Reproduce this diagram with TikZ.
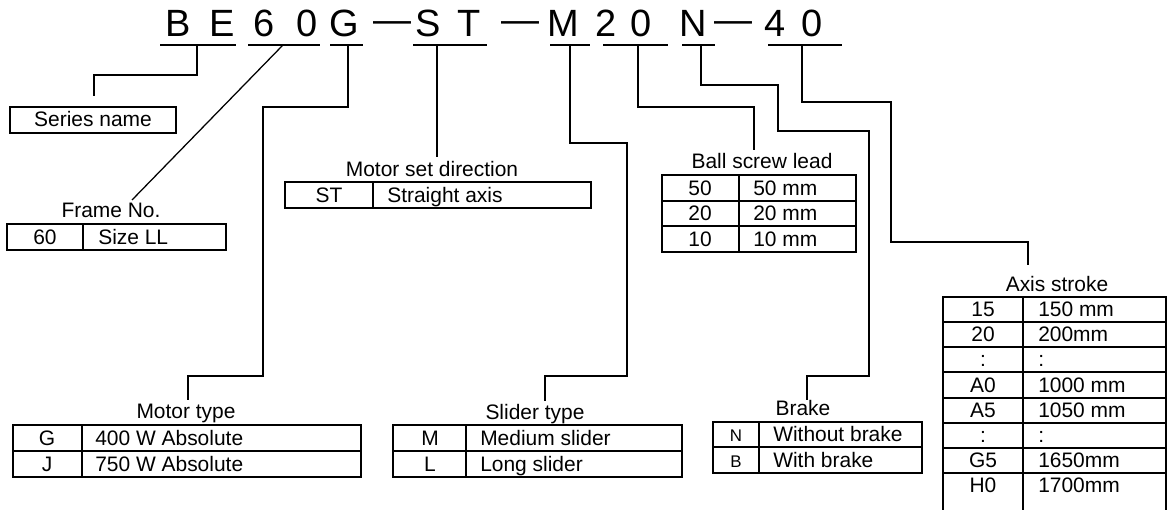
\documentclass[tikz,border=0pt]{standalone}
\usepackage{fontspec}
\setmainfont{Liberation Sans}
\usetikzlibrary{positioning}
\newcommand\codedash{\raisebox{0.13em}{—}}

\begin{document}
\begin{tikzpicture}[
  x=0.025cm, y=-0.025cm,
  codechar/.style={font=\fontsize{27pt}{30pt}\selectfont,anchor=base,inner sep=0pt},
  lbl/.style={font=\fontsize{14.9pt}{17pt}\selectfont,anchor=base,inner sep=0pt},
  lbll/.style={lbl,anchor=base west},
  lbls/.style={font=\fontsize{12pt}{14pt}\selectfont,anchor=base,inner sep=0pt},
  uline/.style={line width=1.1pt},
  lead/.style={line width=0.9pt},
  tab/.style={draw=black,line width=1.4pt}
]
\useasboundingbox (0,0) rectangle (1172,510);

% model code
\foreach \ch/\xc [count=\i] in {B/178.5,E/222.5,6/264.5,0/307.5,G/344,\codedash/392.5,
    S/428.5,T/469,\codedash/520,M/563,2/606.5,0/641.5,N/693,\codedash/733,4/775,0/812.5}
  \node[codechar] (ch\i) at (\xc,37) {\ch};

\draw[uline] (160,45)--(236,45);
\draw[uline] (248,45)--(320,45);
\draw[uline] (330,45)--(363,45);
\draw[uline] (413,45)--(487,45);
\draw[uline] (550,45)--(590,45);
\draw[uline] (603,45)--(668,45);
\draw[uline] (682,45)--(715,45);
\draw[uline] (768,45)--(842,45);

\coordinate (uBE) at (197,45);
\coordinate (u60) at (283,45);
\coordinate (uG)  at (348,45);
\coordinate (uST) at (437,45);
\coordinate (uM)  at (570,45);
\coordinate (u20) at (638,45);
\coordinate (uN)  at (701,45);
\coordinate (u40) at (802,45);

% series name
\draw[tab] (10,107) rectangle (176,133);
\node[lbl] (series) at (93,127) {Series name};
\coordinate (eSeries) at (94,96);

% frame
\node[lbl] (frame) at (111,218) {Frame No.};
\draw[tab] (7,224) rectangle (226,250) (83,224)--(83,250);
\node[lbl]  (frameA) at (45,244.5) {60};
\node[lbll] (frameB) at (98,244.5) {Size LL};
\coordinate (eFrame) at (132,200);

% motor set direction
\node[lbl] (setdir) at (432,177) {Motor set direction};
\draw[tab] (285,182) rectangle (591,208) (373,182)--(373,208);
\node[lbl]  (setdirA) at (329,202.5) {ST};
\node[lbll] (setdirB) at (387,202.5) {Straight axis};
\coordinate (eSetdir) at (437,157);

% ball screw lead
\node[lbl] (screw) at (762,169) {Ball screw lead};
\draw[tab] (662,175) rectangle (856,252)
  (662,201)--(856,201) (662,226)--(856,226) (739,175)--(739,252);
\foreach \a/\b/\yb [count=\i] in {50/50 mm/195.5,20/20 mm/220.5,10/10 mm/246.5}{
  \node[lbl]  (screwA\i) at (700,\yb) {\a};
  \node[lbll] (screwB\i) at (753,\yb) {\b};
}
\coordinate (eScrew) at (754,150);

% motor type
\node[lbl] (motor) at (186,419) {Motor type};
\draw[tab] (13,425) rectangle (361,477) (13,451)--(361,451) (82,425)--(82,477);
\node[lbl]  (motorA1) at (47,445.5) {G};
\node[lbll] (motorB1) at (95,445.5) {400 W Absolute};
\node[lbl]  (motorA2) at (47,471.5) {J};
\node[lbll] (motorB2) at (95,471.5) {750 W Absolute};
\coordinate (eMotor) at (188,400);

% slider type
\node[lbl] (slider) at (535,420) {Slider type};
\draw[tab] (393,425) rectangle (682,477) (393,451)--(682,451) (466,425)--(466,477);
\node[lbl]  (sliderA1) at (430,445.5) {M};
\node[lbll] (sliderB1) at (480,445.5) {Medium slider};
\node[lbl]  (sliderA2) at (430,471.5) {L};
\node[lbll] (sliderB2) at (480,471.5) {Long slider};
\coordinate (eSlider) at (545,401);

% brake
\node[lbl] (brake) at (803,416) {Brake};
\draw[tab] (713,422) rectangle (922,473) (713,447)--(922,447) (759,422)--(759,473);
\node[lbls] (brakeA1) at (736,442) {N};
\node[lbll] (brakeB1) at (773,442) {Without brake};
\node[lbls] (brakeA2) at (736,468) {B};
\node[lbll] (brakeB2) at (773,468) {With brake};
\coordinate (eBrake) at (807,400);

% axis stroke (runs off the bottom edge)
\node[lbl] (stroke) at (1057,292) {Axis stroke};
\draw[tab] (943,510)--(943,297)--(1166,297)--(1166,510) (1023,297)--(1023,510);
\foreach \i in {1,...,7}
  \draw[tab] (943,297+25.15*\i)--(1166,297+25.15*\i);
\foreach \a/\b [count=\i] in {15/150 mm,20/200mm,:/:,A0/1000 mm,A5/1050 mm,:/:,
    G5/1650mm,H0/1700mm}{
  \node[lbl]  (strokeA\i) at (983,297+25.15*\i-5.5) {\a};
  \node[lbll] (strokeB\i) at (1038,297+25.15*\i-5.5) {\b};
}
\coordinate (eStroke) at (1028,265);

% leaders
\draw[lead] (uBE) |- (94,75) -- (eSeries);
\draw[lead] (u60) -- (eFrame);
\draw[lead] (uG) |- (263,107) |- (188,376) -- (eMotor);
\draw[lead] (uST) -- (eSetdir);
\draw[lead] (uM) |- (627,143) |- (545,376) -- (eSlider);
\draw[lead] (u20) |- (754,107) -- (eScrew);
\draw[lead] (uN) |- (778,85) |- (869,131) |- (807,376) -- (eBrake);
\draw[lead] (u40) |- (891,102) |- (1028,242) -- (eStroke);
\end{tikzpicture}
\end{document}
